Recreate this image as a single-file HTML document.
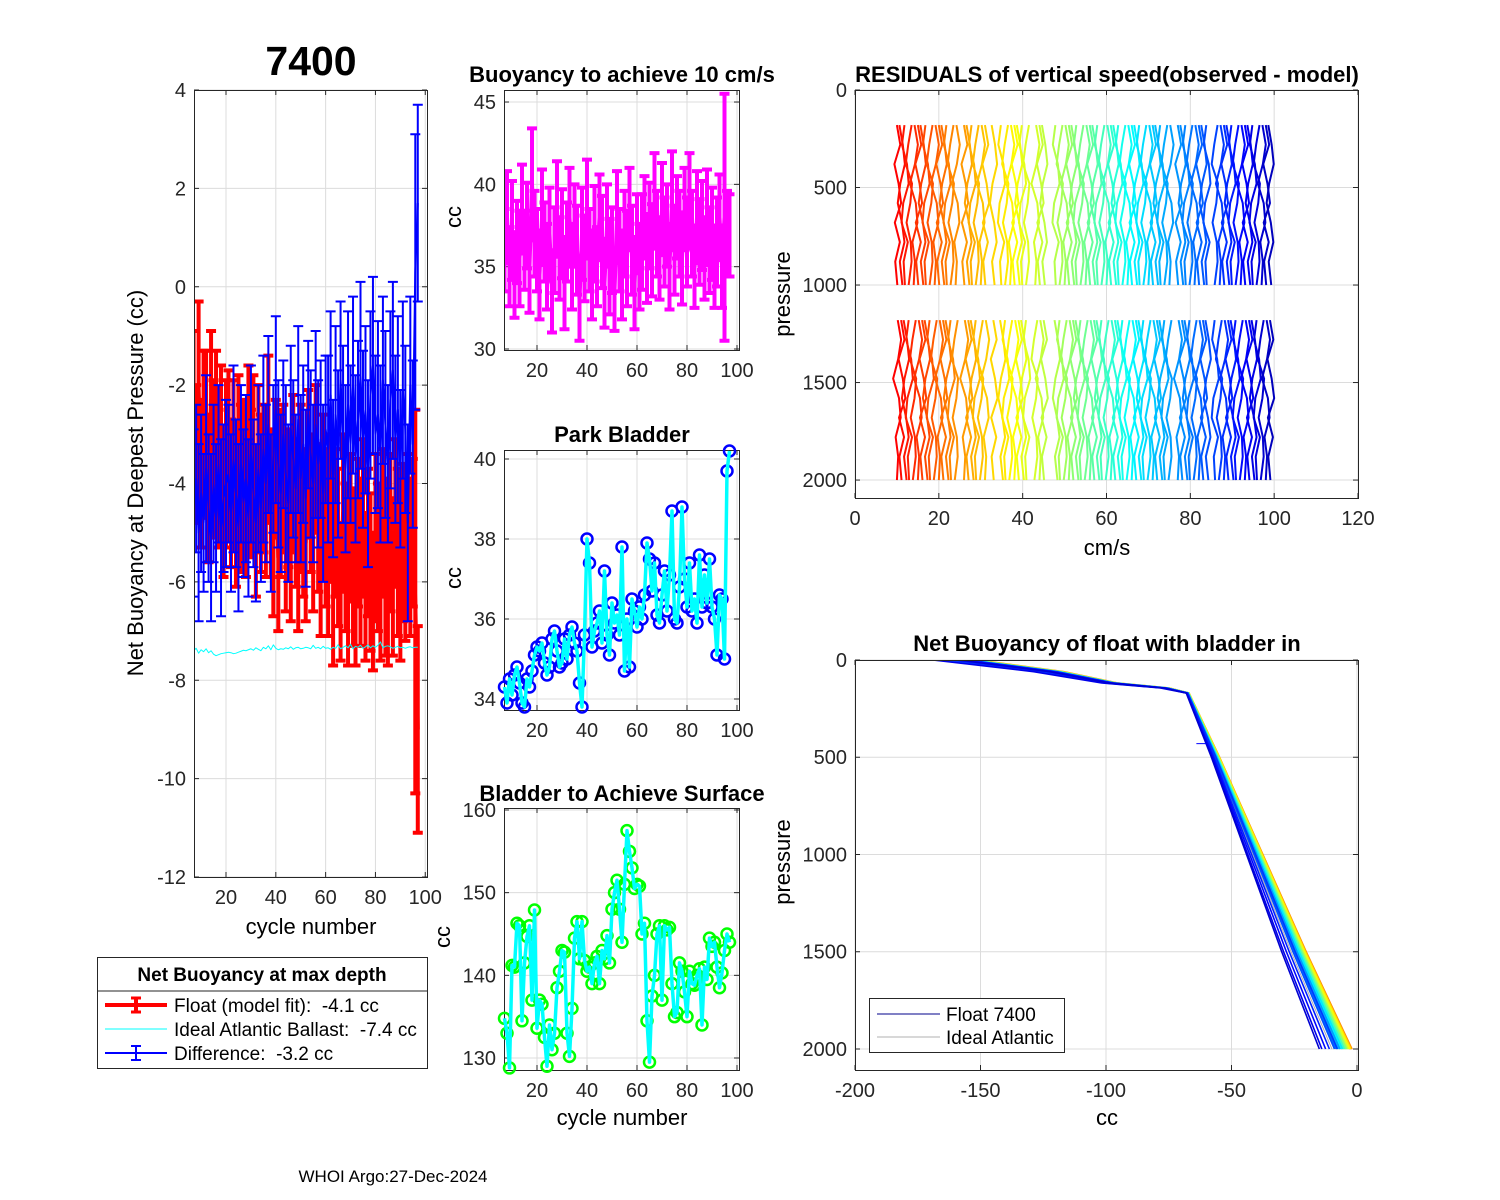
<!DOCTYPE html>
<html><head><meta charset="utf-8"><title>Float 7400</title>
<style>
html,body{margin:0;padding:0;background:#fff;}
svg{display:block;font-family:"Liberation Sans",Arial,sans-serif;}
</style></head>
<body>
<svg id="chart" width="1500" height="1200" viewBox="0 0 1500 1200" xmlns="http://www.w3.org/2000/svg">
<rect x="0" y="0" width="1500" height="1200" fill="#fff"/>
<text x="311" y="75" font-size="41" font-weight="bold" text-anchor="middle">7400</text>
<text x="622" y="82" font-size="22" font-weight="bold" text-anchor="middle">Buoyancy to achieve 10 cm/s</text>
<text x="622" y="442" font-size="22" font-weight="bold" text-anchor="middle">Park Bladder</text>
<text x="622" y="801" font-size="22" font-weight="bold" text-anchor="middle">Bladder to Achieve Surface</text>
<text x="1107" y="82" font-size="22" font-weight="bold" text-anchor="middle">RESIDUALS of vertical speed(observed - model)</text>
<text x="1107" y="651" font-size="22" font-weight="bold" text-anchor="middle">Net Buoyancy of float with bladder in</text>
<text x="143" y="483" font-size="22" text-anchor="middle" transform="rotate(-90 143 483)">Net Buoyancy at Deepest Pressure (cc)</text>
<text x="311" y="934" font-size="22" text-anchor="middle">cycle number</text>
<text x="461" y="217" font-size="22" text-anchor="middle" transform="rotate(-90 461 217)">cc</text>
<text x="461" y="578" font-size="22" text-anchor="middle" transform="rotate(-90 461 578)">cc</text>
<text x="450" y="937" font-size="22" text-anchor="middle" transform="rotate(-90 450 937)">cc</text>
<text x="622" y="1125" font-size="22" text-anchor="middle">cycle number</text>
<text x="790" y="294" font-size="22" text-anchor="middle" transform="rotate(-90 790 294)">pressure</text>
<text x="1107" y="555" font-size="22" text-anchor="middle">cm/s</text>
<text x="790" y="862" font-size="22" text-anchor="middle" transform="rotate(-90 790 862)">pressure</text>
<text x="1107" y="1125" font-size="22" text-anchor="middle">cc</text>
<text x="393" y="1182" font-size="17" text-anchor="middle">WHOI Argo:27-Dec-2024</text>
<g>
<rect x="97.5" y="957.5" width="330" height="111" fill="#fff" stroke="#262626" stroke-width="1"/>
<text x="262" y="981" font-size="19" font-weight="bold" text-anchor="middle">Net Buoyancy at max depth</text>
<line x1="97.5" y1="991" x2="427.5" y2="991" stroke="#262626"/>
<g><line x1="105" y1="1005" x2="167" y2="1005" stroke="#f00" stroke-width="4"/><line x1="136" y1="998" x2="136" y2="1012" stroke="#f00" stroke-width="4"/><line x1="131" y1="998" x2="141" y2="998" stroke="#f00" stroke-width="3"/><line x1="131" y1="1012" x2="141" y2="1012" stroke="#f00" stroke-width="3"/><text x="174" y="1012" font-size="19" style="white-space:pre">Float (model fit):  -4.1 cc</text></g>
<g><line x1="105" y1="1029" x2="167" y2="1029" stroke="#0ff" stroke-width="1"/><text x="174" y="1036" font-size="19" style="white-space:pre">Ideal Atlantic Ballast:  -7.4 cc</text></g>
<g><line x1="105" y1="1053" x2="167" y2="1053" stroke="#00f" stroke-width="2"/><line x1="136" y1="1046" x2="136" y2="1060" stroke="#00f" stroke-width="2"/><line x1="131" y1="1046" x2="141" y2="1046" stroke="#00f" stroke-width="2"/><line x1="131" y1="1060" x2="141" y2="1060" stroke="#00f" stroke-width="2"/><text x="174" y="1060" font-size="19" style="white-space:pre">Difference:  -3.2 cc</text></g>
</g>
</svg>
<script>
// ---------- data ----------
const cycles=[7,8,9,10,11,12,13,14,15,16,17,18,19,20,21,22,23,24,25,26,27,28,29,30,31,32,33,34,35,36,37,38,39,40,41,42,43,44,45,46,47,48,49,50,51,52,53,54,55,56,57,58,59,60,61,62,63,64,65,66,67,68,69,70,71,72,73,74,75,76,77,78,79,80,81,82,83,84,85,86,87,88,89,90,91,92,93,94,95,96,97];
const floatFit=[-2.5,-3.4,-2.1,-3.8,-2.6,-3.0,-4.1,-2.3,-3.5,-2.8,
-3.9,-3.2,-4.4,-3.6,-3.0,-4.2,-3.5,-4.7,-3.3,-4.1,
-3.8,-4.5,-3.2,-4.0,-3.6,-4.8,-3.4,-4.2,-3.9,-4.6,
-3.1,-4.4,-5.1,-3.7,-5.5,-4.2,-3.9,-5.0,-4.3,-5.3,
-3.8,-4.6,-5.6,-4.1,-4.8,-5.2,-3.6,-4.4,-5.0,-3.5,
-4.7,-5.4,-4.0,-4.9,-5.6,-4.5,-5.9,-4.8,-5.3,-6.2,
-4.6,-5.5,-6.0,-4.9,-5.7,-6.3,-5.0,-5.6,-4.7,-6.1,
-5.2,-5.8,-6.4,-5.1,-5.5,-6.0,-4.8,-5.7,-6.2,-5.0,
-5.9,-4.6,-5.4,-6.1,-5.2,-5.8,-4.9,-5.5,-5.0,-6.4,
-9.0];
const floatErr=[1.6,1.4,1.8,1.5,1.3,1.7,1.5,1.4,1.6,1.5,
1.4,1.6,1.5,1.7,1.3,1.5,1.6,1.4,1.5,1.7,
1.5,1.4,1.6,1.5,1.8,1.5,1.4,1.6,1.5,1.3,
1.7,1.5,1.6,1.4,1.5,1.7,1.5,1.6,1.4,1.5,
1.6,1.5,1.4,1.7,1.5,1.6,1.5,1.4,1.6,1.5,
1.5,1.7,1.4,1.6,1.5,1.5,1.8,1.5,1.6,1.4,
1.6,1.5,1.7,1.5,1.6,1.4,1.5,1.7,1.6,1.5,
1.5,1.6,1.4,1.7,1.5,1.6,1.5,1.8,1.5,1.6,
1.6,1.5,1.7,1.5,1.6,1.4,1.5,1.6,1.5,3.9,
2.1];
const diffVals=[-4.6,-3.9,-5.0,-4.2,-4.8,-3.7,-4.5,-5.1,-4.0,-4.7,
-3.6,-4.9,-4.3,-4.0,-3.8,-4.6,-3.5,-4.2,-4.9,-3.6,
-4.4,-3.9,-4.7,-3.4,-4.2,-4.8,-3.7,-4.5,-3.3,-4.0,
-2.8,-4.6,-3.5,-2.5,-3.6,-4.2,-3.0,-3.8,-4.4,-2.9,
-3.5,-4.1,-2.7,-3.9,-3.2,-4.3,-2.6,-3.4,-4.0,-2.8,
-3.6,-3.1,-4.2,-2.9,-3.3,-2.2,-3.9,-2.6,-3.4,-1.9,
-3.0,-3.7,-2.4,-3.2,-2.0,-3.5,-2.7,-1.8,-3.1,-2.5,
-3.8,-2.2,-1.6,-3.0,-2.6,-3.4,-1.9,-2.8,-3.6,-2.3,
-1.7,-3.1,-2.5,-3.7,-2.1,-2.9,-4.8,-2.0,-3.2,0.3,
1.7];
const diffErr=[1.7,1.5,1.8,1.6,1.4,1.9,1.5,1.7,1.6,1.5,
1.6,1.8,1.5,1.7,1.4,1.6,1.9,1.5,1.7,1.6,
1.5,1.7,1.6,1.8,1.5,1.6,1.7,1.5,1.9,1.6,
1.8,1.6,1.5,1.9,1.7,1.6,1.5,1.8,1.6,1.7,
1.6,1.5,1.9,1.7,1.6,1.8,1.5,1.7,1.6,1.9,
1.7,1.6,1.8,1.5,1.9,1.7,1.6,1.8,1.7,1.6,
1.8,1.7,1.9,1.6,1.8,1.7,1.6,1.9,1.8,1.7,
1.9,1.7,1.8,1.6,1.9,1.8,1.7,1.9,1.6,1.8,
1.8,1.7,1.9,1.6,1.8,1.7,2.0,1.8,1.7,2.8,
2.0];
const idealVals=[-7.40,-7.35,-7.45,-7.38,-7.42,-7.36,-7.44,-7.40,-7.47,-7.50,
-7.48,-7.46,-7.45,-7.44,-7.43,-7.44,-7.46,-7.45,-7.43,-7.41,
-7.39,-7.40,-7.38,-7.36,-7.39,-7.34,-7.37,-7.40,-7.33,-7.36,
-7.30,-7.38,-7.28,-7.35,-7.38,-7.36,-7.37,-7.34,-7.36,-7.32,
-7.37,-7.34,-7.33,-7.36,-7.35,-7.33,-7.34,-7.36,-7.29,-7.35,
-7.33,-7.36,-7.31,-7.35,-7.34,-7.37,-7.33,-7.35,-7.28,-7.36,
-7.33,-7.30,-7.34,-7.27,-7.36,-7.31,-7.33,-7.29,-7.35,-7.32,
-7.28,-7.34,-7.30,-7.33,-7.29,-7.22,-7.34,-7.31,-7.30,-7.32,
-7.35,-7.33,-7.31,-7.34,-7.33,-7.35,-7.33,-7.32,-7.34,-7.33,
-7.33];
const buoy10=[36.0,38.0,35.0,37.2,34.5,36.5,35.5,38.5,36.0,37.5,
35.0,40.0,37.0,36.0,34.5,38.0,36.5,35.0,37.0,33.5,
36.0,38.5,35.5,37.0,34.0,36.5,38.0,35.0,37.5,36.0,
33.0,37.0,35.5,38.5,36.0,34.5,37.0,35.0,38.0,36.5,
34.0,37.5,35.0,36.0,33.5,38.0,36.0,34.5,37.0,35.5,
38.5,36.0,34.0,37.0,35.0,36.5,38.0,35.5,37.5,36.0,
39.0,37.0,35.5,38.5,36.5,37.5,35.0,39.0,36.0,38.0,
37.0,35.5,38.5,36.5,39.0,37.0,35.0,38.0,36.5,37.5,
35.5,38.0,36.0,37.0,35.0,36.5,38.0,35.0,38.0,37.0,
36.9];
const buoy10Err=[2.5,2.8,2.4,3.0,2.6,2.5,2.9,2.7,2.4,2.6,
2.8,3.4,2.6,2.5,2.7,2.9,2.4,2.6,2.8,2.5,
2.6,2.9,2.5,2.7,2.8,2.4,3.0,2.6,2.5,2.7,
2.5,2.8,2.6,3.0,2.5,2.7,2.9,2.4,2.6,2.8,
2.7,2.5,2.9,2.6,2.4,2.8,2.5,2.7,2.6,2.9,
2.5,2.7,2.8,2.4,2.6,2.9,2.5,2.7,2.6,2.8,
2.9,2.6,2.5,2.8,2.7,2.5,2.6,3.0,2.7,2.5,
2.6,2.8,2.5,2.7,2.9,2.6,2.5,2.8,2.6,2.7,
2.5,2.9,2.6,2.8,2.5,2.7,2.6,2.5,7.5,2.6,
2.5];
const parkBladder=[34.3,33.9,34.5,34.1,34.6,34.8,34.4,33.9,33.8,34.5,
34.3,34.7,35.1,35.3,35.2,35.4,34.9,34.6,34.8,35.5,
35.7,35.2,34.8,34.9,35.5,35.0,35.6,35.8,35.4,35.2,
34.4,33.8,35.6,38.0,37.4,35.3,35.7,35.9,36.2,35.4,
37.2,35.6,35.1,36.4,35.9,36.1,35.6,37.8,34.7,36.0,
34.8,36.5,36.2,35.8,36.3,36.0,36.6,37.9,37.5,36.7,
37.4,36.1,35.9,36.6,37.2,36.2,37.1,38.7,36.0,35.9,
36.8,38.8,37.0,36.3,37.4,36.2,36.5,35.9,37.6,36.3,
37.1,36.4,37.5,36.3,36.0,35.1,36.6,36.5,35.0,39.7,
40.2];
const surfBladder=[134.8,133.0,128.8,141.2,141.0,146.3,146.0,134.5,141.5,144.7,
146.0,137.0,147.9,133.6,137.0,136.5,132.5,129.0,134.0,131.0,
133.0,138.5,140.5,143.0,142.8,133.0,130.2,136.0,144.5,146.5,
142.0,146.5,141.8,140.5,141.0,139.0,141.5,142.3,139.0,143.0,142.0,144.8,141.5,148.0,150.0,
151.5,148.0,144.0,151.0,157.5,155.0,153.0,150.5,151.0,150.8,
145.0,146.3,134.5,129.5,137.5,140.0,145.0,146.0,137.0,146.0,
145.5,145.8,139.0,135.0,135.5,141.5,140.5,138.0,135.0,140.5,
139.0,138.8,140.0,140.8,134.0,141.0,139.5,144.5,143.5,144.0,
141.0,138.5,140.3,143.0,145.0,144.0];
// residual panel data
const residCycles=[10,11,12,13,14,15,16,17,18,19,20,21,22,23,24,26,27,28,29,30,31,33,35,36,37,38,39,40,41,43,44,45,48,49,50,51,52,53,54,55,56,57,58,59,60,61,62,63,64,65,66,67,68,69,70,71,72,73,74,75,77,78,79,80,81,82,83,84,86,87,88,89,90,91,92,93,94,95,96,97,98,99];
const residPressures=[180,280,380,480,580,680,780,880,1000];
const residPatA=[0,0.8,-0.6,0.4,1.0,-0.5,0.7,-0.4,0.1];
const residPatB=[0.5,-0.3,-0.9,0.6,0.2,-0.7,0.3,0.5,-0.2];
const residPatC=[-0.4,0.4,0.9,-0.2,-0.8,0.2,0.8,-0.3,0.3];
const residPatD=[0.2,1.0,0.3,-0.9,0.5,0.9,-0.3,0.3,0];
const residPatE=[-0.2,-0.8,0.4,0.8,-0.5,-0.9,0.6,-0.4,-0.1];
// profile panel data
const profP=[0,60,118,144,170,500,1000,1500,2000];
const profCC=[-159,-122,-98,-76,-67,-55,-38,-21,-3];
const profTopOff=[6,-4,8,2,-6,5,-2,7,-5,3,0,-7,4,-3,6,-1,2,-6,5,-4,1,-8,3,-2,-5,4,-3,2,-10,0];
const profBotOff=[0.5,0.2,1.0,0.8,0.3,0.6,0.4,0,-0.3,-0.6,-1,-1.5,-1.2,-2,-2.5,-2,-3,-3.5,-2.8,-4,-4.5,-3.8,-5,-5.5,-6,-4.8,-8,-9.5,-11,-12];
const idealBotOff=[-2,-4,-3,-5,-6,-4.5,-3.5,-7,-5.5,-2.5];
const idealTopOff=[-5,3,-8,0,6,-3,-10,2,-6,4];

// ---------- helpers ----------
const NS='http://www.w3.org/2000/svg';
const svg=document.getElementById('chart');
function mk(tag,parent){const e=document.createElementNS(NS,tag);parent.appendChild(e);return e;}
function geo(e,o){for(const k in o)e.setAttribute(k,o[k]);return e;}
function linear(d0,d1,r0,r1){return v=>r0+(v-d0)*(r1-r0)/(d1-d0);}
function jet(t){
  t=Math.max(0,Math.min(1,t));
  const r=Math.max(0,Math.min(1,1.5-Math.abs(4*t-3)));
  const g=Math.max(0,Math.min(1,1.5-Math.abs(4*t-2)));
  const b=Math.max(0,Math.min(1,1.5-Math.abs(4*t-1)));
  return 'rgb('+Math.round(r*255)+','+Math.round(g*255)+','+Math.round(b*255)+')';
}
function axes(name,L,T,R,B,xd,yd,xticks,yticks,reverseY){
  const g=mk('g',svg);
  
  
  const sx=linear(xd[0],xd[1],L,R);
  const sy=reverseY?linear(yd[0],yd[1],T,B):linear(yd[0],yd[1],B,T);
  const grid=mk('g',g);
  
  
  xticks.forEach(v=>{
    const x=sx(v);
    const gl=geo(mk('line',grid),{x1:x,y1:T,x2:x,y2:B,stroke:'#dcdcdc','stroke-width':1});
    
    
    const t1=geo(mk('line',g),{x1:x,y1:B,x2:x,y2:B-5,stroke:'#262626','stroke-width':1});
    
    
    const t2=geo(mk('line',g),{x1:x,y1:T,x2:x,y2:T+5,stroke:'#262626','stroke-width':1});
    
    
    const lb=geo(mk('text',g),{x:x,y:B+27,'font-size':20,'text-anchor':'middle',fill:'#262626'});
    lb.textContent=String(v);
    
    
  });
  yticks.forEach(v=>{
    const y=sy(v);
    const gl=geo(mk('line',grid),{x1:L,y1:y,x2:R,y2:y,stroke:'#dcdcdc','stroke-width':1});
    
    
    const t1=geo(mk('line',g),{x1:L,y1:y,x2:L+5,y2:y,stroke:'#262626','stroke-width':1});
    
    
    const t2=geo(mk('line',g),{x1:R,y1:y,x2:R-5,y2:y,stroke:'#262626','stroke-width':1});
    
    
    const lb=geo(mk('text',g),{x:L-8,y:y+7,'font-size':20,'text-anchor':'end',fill:'#262626'});
    lb.textContent=String(v);
    
    
  });
  const plot=mk('g',g);
  
  
  const cid='clip-'+name;
  const cp=mk('clipPath',g);cp.setAttribute('id',cid);
  geo(mk('rect',cp),{x:L,y:T,width:R-L,height:B-T});
  plot.setAttribute('clip-path','url(#'+cid+')');
  const frame=geo(mk('rect',g),{x:L+0.5,y:T+0.5,width:R-L,height:B-T,fill:'none',stroke:'#262626','stroke-width':1});
  
  
  return {sx,sy,plot,frame,g};
}
function polyline(parent,xs,ys,color,w){
  return geo(mk('polyline',parent),{points:xs.map((x,i)=>x+','+ys[i]).join(' '),fill:'none',stroke:color,'stroke-width':w,'stroke-linejoin':'round'});
}
function errorbars(ax,xv,yv,ev,color,w,cap,name){
  const g=mk('g',ax.plot);
  
  
  const line=polyline(g,xv.map(ax.sx),yv.map(ax.sy),color,w);
  
  
  xv.forEach((c,i)=>{
    const x=ax.sx(c),y1=ax.sy(yv[i]+ev[i]),y2=ax.sy(yv[i]-ev[i]);
    const b=geo(mk('path',g),{d:'M'+x+' '+y1+'V'+y2+'M'+(x-cap)+' '+y1+'H'+(x+cap)+'M'+(x-cap)+' '+y2+'H'+(x+cap),stroke:color,'stroke-width':w,fill:'none'});
    
    
  });
}

// ---------- panel 1 ----------
const ax1=axes('net-buoyancy-panel',194,90,427,877,[7.15,100.7],[-12,4],[20,40,60,80,100],[-12,-10,-8,-6,-4,-2,0,2,4],false);
errorbars(ax1,cycles,floatFit,floatErr,'#ff0000',4,5,'float-model-fit-series');
const ideal=polyline(ax1.plot,cycles.map(ax1.sx),idealVals.map(ax1.sy),'#00ffff',1);


errorbars(ax1,cycles,diffVals,diffErr,'#0000ff',2,5,'difference-series');

// ---------- panel 2 ----------
const ax2=axes('buoyancy-10cms-panel',504,90,739,350,[6.8,100.8],[29.94,45.73],[20,40,60,80,100],[30,35,40,45],false);
errorbars(ax2,cycles,buoy10,buoy10Err,'#ff00ff',4,5,'buoyancy-10cms-series');

// ---------- panel 3 ----------
const ax3=axes('park-bladder-panel',504,450,739,710,[6.8,100.8],[33.725,40.225],[20,40,60,80,100],[34,36,38,40],false);
cycles.forEach((c,i)=>{
  const m=geo(mk('circle',ax3.g),{cx:ax3.sx(c),cy:ax3.sy(parkBladder[i]),r:5.5,fill:'none',stroke:'#0000ff','stroke-width':2.5});
  
  
});
const pl3=polyline(ax3.g,cycles.map(ax3.sx),parkBladder.map(ax3.sy),'#00ffff',3.5);



// ---------- panel 4 ----------
const ax4=axes('bladder-surface-panel',504,808,739,1070,[6.8,100.8],[128.55,160.24],[20,40,60,80,100],[130,140,150,160],false);
cycles.forEach((c,i)=>{
  const m=geo(mk('circle',ax4.g),{cx:ax4.sx(c),cy:ax4.sy(surfBladder[i]),r:5.5,fill:'none',stroke:'#00ff00','stroke-width':2.5});
  
  
});
const pl4=polyline(ax4.g,cycles.map(ax4.sx),surfBladder.map(ax4.sy),'#00ffff',3.5);



// ---------- panel 5 ----------
const ax5=axes('residuals-panel',855,90,1358,498,[0,120],[0,2092],[0,20,40,60,80,100,120],[0,500,1000,1500,2000],true);
const pats=[residPatA,residPatB,residPatC,residPatD,residPatE];
residCycles.forEach((c,i)=>{
  const col=jet(0.875-0.815*i/(residCycles.length-1));
  [0,1000].forEach((off,s)=>{
    const pat=pats[(i*2+s*3)%5];
    const l=polyline(ax5.plot,residPressures.map((p,k)=>ax5.sx(c+pat[k])),residPressures.map(p=>ax5.sy(p+off)),col,2);
    
    
  });
});

// ---------- panel 6 ----------
const ax6=axes('buoyancy-profile-panel',855,660,1358,1070,[-200,0.4],[0,2108],[-200,-150,-100,-50,0],[0,500,1000,1500,2000],true);
function profLine(top,bot,col,w,name){
  const xs=profP.map((p,k)=>{const off=top*(1-Math.min(1,p/170))+bot*Math.min(1,p/2000);return ax6.sx(profCC[k]+off);});
  const l=polyline(ax6.plot,xs,profP.map(ax6.sy),col,w);
  
  
}
idealBotOff.forEach((b,i)=>profLine(idealTopOff[i],b,'#b0b0b0',1,'ideal-atlantic-profile'));
profBotOff.forEach((b,i)=>profLine(profTopOff[i],b,jet(0.8-0.72*i/(profBotOff.length-1)),1.6,'float-profile'));
const tick6=geo(mk('line',ax6.plot),{x1:ax6.sx(-64),y1:ax6.sy(430),x2:ax6.sx(-60),y2:ax6.sy(430),stroke:'#0000ff','stroke-width':1});


const lg=mk('g',svg);


geo(mk('rect',lg),{x:869.5,y:998.5,width:195,height:54,fill:'#fff',stroke:'#262626','stroke-width':1});
geo(mk('line',lg),{x1:877,y1:1014,x2:940,y2:1014,stroke:'#00008b','stroke-width':1});
const lt1=geo(mk('text',lg),{x:946,y:1021,'font-size':19});lt1.textContent='Float 7400';


geo(mk('line',lg),{x1:877,y1:1037,x2:940,y2:1037,stroke:'#b0b0b0','stroke-width':1});
const lt2=geo(mk('text',lg),{x:946,y:1044,'font-size':19});lt2.textContent='Ideal Atlantic';


</script>
</body></html>
